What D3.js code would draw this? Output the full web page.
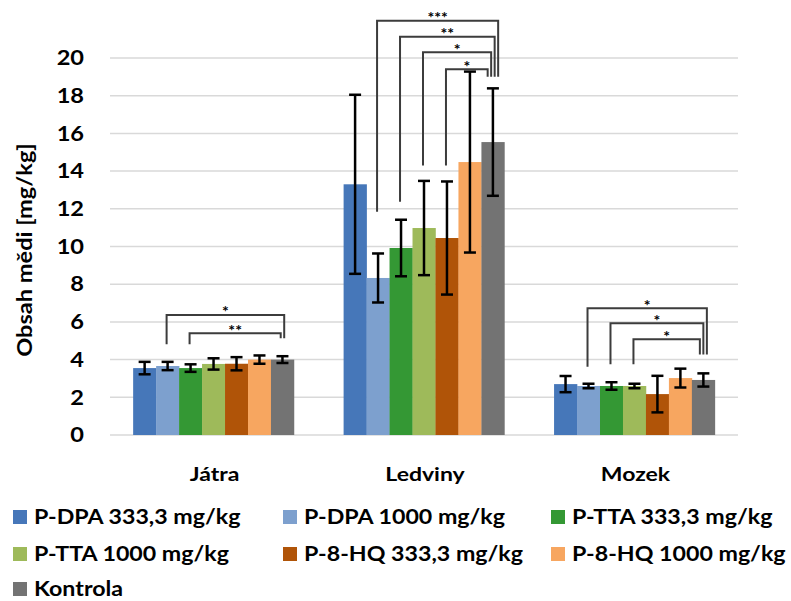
<!DOCTYPE html>
<html>
<head>
<meta charset="utf-8">
<script src="https://cdn.jsdelivr.net/npm/d3@7"></script>
<style>
  body { margin: 0; background: #fff; }
  svg text { font-family: Lato, "Open Sans", sans-serif; font-weight: bold; fill: #000; }
</style>
</head>
<body>
<div id="chart"></div>
<script>
var organs = ["Játra", "Ledviny", "Mozek"];
var series = ["P-DPA 333,3 mg/kg", "P-DPA 1000 mg/kg", "P-TTA 333,3 mg/kg",
              "P-TTA 1000 mg/kg", "P-8-HQ 333,3 mg/kg", "P-8-HQ 1000 mg/kg", "Kontrola"];
var colors = ["#4677B9", "#7DA0CE", "#349834", "#9EBA5A", "#B05408", "#F7A660", "#737373"];

// mean per organ, one value per series
var jatra   = [3.55, 3.66, 3.55, 3.77, 3.78, 4.0, 4.0];
var ledviny = [13.3, 8.33, 9.92, 10.98, 10.45, 14.48, 15.54];
var mozek   = [2.7, 2.6, 2.6, 2.6, 2.17, 3.02, 2.92];

// error (+/-)
var jatraErr   = [0.33, 0.22, 0.2, 0.3, 0.35, 0.22, 0.18];
var ledvinyErr = [4.75, 1.3, 1.5, 2.5, 3.0, 4.8, 2.85];
var mozekErr   = [0.43, 0.12, 0.2, 0.12, 0.97, 0.5, 0.35];

var yTicks = [0, 2, 4, 6, 8, 10, 12, 14, 16, 18, 20];

// significance brackets: organ, from bar, to bar, label, top level, left leg end, right leg end
var sigOrgan = ["Játra", "Játra", "Ledviny", "Ledviny", "Ledviny", "Ledviny", "Mozek", "Mozek", "Mozek"];
var sigFrom  = [1, 2, 1, 2, 3, 4, 1, 2, 3];
var sigTo    = [6, 6, 6, 6, 6, 6, 6, 6, 6];
var sigLabel = ["*", "**", "***", "**", "*", "*", "*", "*", "*"];
var sigTop   = [6.37, 5.4, 21.98, 21.13, 20.3, 19.4, 6.72, 5.93, 5.08];
var sigLeft  = [4.81, 4.81, 11.85, 12.38, 14.3, 14.3, 3.62, 3.75, 3.75];
var sigRight = [5.13, 5.13, 19.0, 19.0, 19.0, 19.0, 4.27, 4.27, 4.27];

var means = {"Játra": jatra, "Ledviny": ledviny, "Mozek": mozek};
var errs = {"Játra": jatraErr, "Ledviny": ledvinyErr, "Mozek": mozekErr};

var W = 791, H = 601;
var SX = 1.18; // text in the original is drawn a little wide

var svg = d3.select("#chart").append("svg")
    .attr("width", W)
    .attr("height", H);

var x0 = d3.scaleBand()
    .domain(organs)
    .range([110, 738])
    .paddingInner(0.236)
    .paddingOuter(0.11);

var x1 = d3.scaleBand()
    .domain(d3.range(series.length))
    .range([0, x0.bandwidth()]);

var y = d3.scaleLinear()
    .domain([0, 20])
    .range([435, 58]);

// gridlines
svg.append("g").selectAll("line")
    .data(yTicks)
    .join("line")
    .attr("x1", 110).attr("x2", 738)
    .attr("y1", function(d) { return y(d); })
    .attr("y2", function(d) { return y(d); })
    .attr("stroke", "#d9d9d9")
    .attr("stroke-width", 1.5);

// y tick labels
svg.append("g").selectAll("text")
    .data(yTicks)
    .join("text")
    .attr("transform", function(d) { return "translate(84," + y(d) + ") scale(" + SX + ",1)"; })
    .attr("dy", "0.36em")
    .attr("text-anchor", "end")
    .style("font-size", "20px")
    .text(function(d) { return d; });

// axis title
svg.append("text")
    .attr("transform", "translate(32,250) rotate(-90) scale(" + SX + ",1)")
    .attr("text-anchor", "middle")
    .style("font-size", "20px")
    .text("Obsah mědi [mg/kg]");

// bars
var flat = [];
organs.forEach(function(o) {
    means[o].forEach(function(v, i) {
        flat.push({organ: o, i: i, v: v, e: errs[o][i]});
    });
});

svg.append("g").selectAll("rect")
    .data(flat)
    .join("rect")
    .attr("x", function(d) { return x0(d.organ) + x1(d.i); })
    .attr("y", function(d) { return y(d.v); })
    .attr("width", x1.bandwidth() + 0.3)
    .attr("height", function(d) { return y(0) - y(d.v); })
    .attr("fill", function(d) { return colors[d.i]; });

// error bars
function cx(o, i) { return x0(o) + x1(i) + x1.bandwidth() / 2; }
var eb = svg.append("g").attr("stroke", "#000").attr("stroke-width", 2.5);
eb.selectAll("line.v")
    .data(flat)
    .join("line")
    .attr("class", "v")
    .attr("x1", function(d) { return cx(d.organ, d.i); })
    .attr("x2", function(d) { return cx(d.organ, d.i); })
    .attr("y1", function(d) { return y(d.v + d.e); })
    .attr("y2", function(d) { return y(d.v - d.e); });
[1, -1].forEach(function(s) {
    eb.append("g").selectAll("line")
        .data(flat)
        .join("line")
        .attr("x1", function(d) { return cx(d.organ, d.i) - 6; })
        .attr("x2", function(d) { return cx(d.organ, d.i) + 6; })
        .attr("y1", function(d) { return y(d.v + s * d.e); })
        .attr("y2", function(d) { return y(d.v + s * d.e); });
});

// significance brackets
var br = svg.append("g");
organs.forEach(function(o) {
    var idx = d3.range(sigOrgan.length).filter(function(k) { return sigOrgan[k] === o; });
    var n = idx.length;
    idx.forEach(function(k, r) {
        var xl = cx(o, sigFrom[k]) - 1;
        var xr = cx(o, sigTo[k]) + ((n - 1) / 2 - r) * 3.5;
        var yt = y(sigTop[k]);
        br.append("path")
            .attr("d", "M" + xl + "," + y(sigLeft[k]) + "V" + yt + "H" + xr + "V" + y(sigRight[k]))
            .attr("fill", "none")
            .attr("stroke", "#3c3c3c")
            .attr("stroke-width", 2);
        br.append("text")
            .attr("x", (xl + xr) / 2)
            .attr("y", yt + 2.5)
            .attr("text-anchor", "middle")
            .style("font-size", "16px")
            .text(sigLabel[k]);
    });
});

// x labels
svg.append("g").selectAll("text")
    .data(organs)
    .join("text")
    .attr("transform", function(d) {
        return "translate(" + (x0(d) + x0.bandwidth() / 2 + 1) + ",481) scale(" + SX + ",1)";
    })
    .attr("text-anchor", "middle")
    .style("font-size", "19.5px")
    .text(function(d) { return d; });

// legend
var colX = [13, 283, 551];
var rowY = [517, 554, 589];
var lg = svg.append("g").selectAll("g")
    .data(series)
    .join("g")
    .attr("transform", function(d, i) {
        return "translate(" + colX[i % 3] + "," + rowY[Math.floor(i / 3)] + ")";
    });
lg.append("rect")
    .attr("x", 0).attr("y", -7)
    .attr("width", 14).attr("height", 14)
    .attr("fill", function(d, i) { return colors[i]; });
lg.append("text")
    .attr("transform", "translate(21,0) scale(1.16,1)")
    .attr("dy", "0.36em")
    .style("font-size", "20px")
    .text(function(d) { return d; });
</script>
</body>
</html>
